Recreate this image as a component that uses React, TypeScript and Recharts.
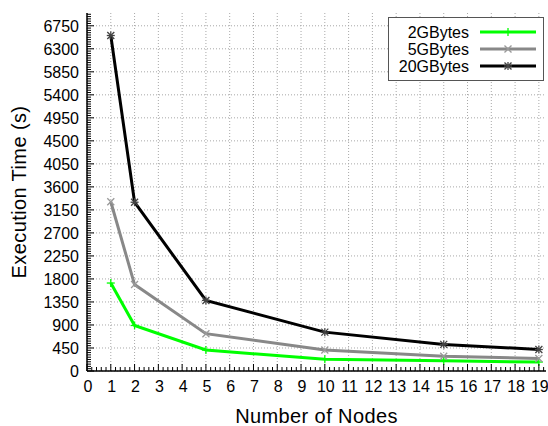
import React from 'react';
import { LineChart, Line, XAxis, YAxis, CartesianGrid, Legend } from 'recharts';

const nodes = [1, 2, 5, 10, 15, 19];
const time2GB = [1720, 890, 410, 230, 200, 175];
const time5GB = [3310, 1690, 730, 410, 290, 245];
const time20GB = [6560, 3300, 1380, 760, 520, 420];
const seriesNames = ['2GBytes', '5GBytes', '20GBytes'];
const seriesColors = ['#00ff00', '#888888', '#000000'];
const xTickLabels = [0, 1, 2, 3, 4, 5, 6, 7, 8, 9, 10, 11, 12, 13, 14, 15, 16, 17, 18, 19];
const yTickLabels = [0, 450, 900, 1350, 1800, 2250, 2700, 3150, 3600, 4050, 4500, 4950, 5400, 5850, 6300, 6750];
const xDomain = [0, 19.3];
const yDomain = [0, 7000];

const data = nodes.map((n, i) => ({
  n,
  s0: time2GB[i],
  s1: time5GB[i],
  s2: time20GB[i],
}));

// minor tick positions (styling only)
const xMinor: number[] = [];
for (let i = 0; i <= 96; i++) xMinor.push(Math.round(i * 2) / 10);
const yMinor: number[] = [];
for (let i = 0; i <= 155; i++) yMinor.push(i * 45);

const isMajorX = (v: number) => Math.abs(v - Math.round(v)) < 1e-6;
const isMajorY = (v: number) => Math.abs(v / 450 - Math.round(v / 450)) < 1e-6;

const FONT = '"Liberation Sans", Arial, Helvetica, sans-serif';

const BottomTick = (props: any) => {
  const { x, y, payload } = props;
  const major = isMajorX(payload.value);
  return (
    <g>
      <line x1={x} x2={x} y1={y} y2={y - (major ? 7 : 4)} stroke="#000" strokeWidth={1} />
      {major && (
        <text x={x + 1} y={y + 21} textAnchor="middle" fontSize={16} fontFamily={FONT} fill="#000">
          {Math.round(payload.value)}
        </text>
      )}
    </g>
  );
};

const TopTick = (props: any) => {
  const { x, y, payload } = props;
  const major = isMajorX(payload.value);
  return <line x1={x} x2={x} y1={y} y2={y + (major ? 7 : 4)} stroke="#000" strokeWidth={1} />;
};

const LeftTick = (props: any) => {
  const { x, y, payload } = props;
  const major = isMajorY(payload.value);
  return (
    <g>
      <line x1={x} x2={x + (major ? 7 : 4)} y1={y} y2={y} stroke="#000" strokeWidth={1} />
      {major && (
        <text x={x - 8} y={y + 6} textAnchor="end" fontSize={16} fontFamily={FONT} fill="#000">
          {Math.round(payload.value)}
        </text>
      )}
    </g>
  );
};

const RightTick = (props: any) => {
  const { x, y, payload } = props;
  const major = isMajorY(payload.value);
  return <line x1={x} x2={x - (major ? 7 : 4)} y1={y} y2={y} stroke="#000" strokeWidth={1} />;
};

const Marker = ({ kind, cx, cy, color }: { kind: number; cx: number; cy: number; color: string }) => {
  const s = 3.5;
  const plus = (
    <>
      <line x1={cx - s - 0.5} x2={cx + s + 0.5} y1={cy} y2={cy} stroke={color} strokeWidth={1.3} />
      <line x1={cx} x2={cx} y1={cy - s - 0.5} y2={cy + s + 0.5} stroke={color} strokeWidth={1.3} />
    </>
  );
  const cross = (
    <>
      <line x1={cx - s} x2={cx + s} y1={cy - s} y2={cy + s} stroke={color} strokeWidth={1.3} />
      <line x1={cx - s} x2={cx + s} y1={cy + s} y2={cy - s} stroke={color} strokeWidth={1.3} />
    </>
  );
  return (
    <g>
      {(kind === 0 || kind === 2) && plus}
      {(kind === 1 || kind === 2) && cross}
    </g>
  );
};

const markerColors = ['#00ff00', '#9a9a9a', '#444444'];

const makeDot = (kind: number) => (props: any) => {
  const { cx, cy, index } = props;
  if (cx == null || cy == null) return <g key={index} />;
  return (
    <g key={index}>
      <Marker kind={kind} cx={cx} cy={cy} color={markerColors[kind]} />
    </g>
  );
};

const LegendBox = () => (
  <svg width={156} height={64} style={{ display: 'block' }}>
    <rect x={0.5} y={0.5} width={155} height={63} fill="#fff" stroke="#555" strokeWidth={1} />
    {seriesNames.map((name, i) => {
      const cy = 15 + i * 17;
      return (
        <g key={name}>
          <text x={81} y={cy + 6} textAnchor="end" fontSize={16} fontFamily={FONT} fill="#000">
            {name}
          </text>
          <line x1={92} x2={148} y1={cy} y2={cy} stroke={seriesColors[i]} strokeWidth={3} />
          <Marker kind={i} cx={120} cy={cy} color={markerColors[i]} />
        </g>
      );
    })}
  </svg>
);

export default function App() {
  return (
    <div style={{ position: 'absolute', left: 0, top: 0, background: '#fff' }}>
      <LineChart
        width={548}
        height={426}
        data={data}
        margin={{ top: 13, right: 2, bottom: 5, left: 27 }}
      >
        <CartesianGrid
          stroke="#a8a8a8"
          strokeWidth={1}
          strokeDasharray="1 2"
          horizontalValues={yTickLabels}
          verticalValues={xTickLabels}
        />
        <XAxis
          dataKey="n"
          type="number"
          domain={xDomain}
          allowDataOverflow
          ticks={xMinor}
          interval={0}
          tickSize={0}
          tickMargin={0}
          height={50}
          axisLine={{ stroke: '#000', strokeWidth: 1.5 }}
          tick={<BottomTick />}
          label={{
            value: 'Number of Nodes',
            position: 'insideBottom',
            offset: -2,
            fontSize: 20,
            fontFamily: FONT,
            fill: '#000',
            style: { letterSpacing: '0.4px' },
          }}
        />
        <XAxis
          xAxisId="top"
          orientation="top"
          type="number"
          domain={xDomain}
          allowDataOverflow
          ticks={xMinor}
          interval={0}
          tickSize={0}
          tickMargin={0}
          height={0}
          axisLine={{ stroke: '#000', strokeWidth: 1.5 }}
          tick={<TopTick />}
        />
        <YAxis
          type="number"
          domain={yDomain}
          allowDataOverflow
          ticks={yMinor}
          interval={0}
          tickSize={0}
          tickMargin={0}
          width={60}
          axisLine={{ stroke: '#000', strokeWidth: 1.5 }}
          tick={<LeftTick />}
          label={{
            value: 'Execution Time (s)',
            angle: -90,
            position: 'insideLeft',
            offset: -8,
            fontSize: 20,
            fontFamily: FONT,
            fill: '#000',
            style: { textAnchor: 'middle', letterSpacing: '0.4px' },
          }}
        />
        <YAxis
          yAxisId="right"
          orientation="right"
          type="number"
          domain={yDomain}
          allowDataOverflow
          ticks={yMinor}
          interval={0}
          tickSize={0}
          tickMargin={0}
          width={0}
          axisLine={{ stroke: '#000', strokeWidth: 1.5 }}
          tick={<RightTick />}
        />
        <Legend
          layout="horizontal"
          verticalAlign="middle"
          align="center"
          content={() => <LegendBox />}
          wrapperStyle={{ position: 'absolute', left: 388, top: 17, width: 156, height: 64 }}
        />
        <Line
          name={seriesNames[0]}
          dataKey="s0"
          stroke={seriesColors[0]}
          strokeWidth={3}
          dot={makeDot(0)}
          activeDot={false}
          isAnimationActive={false}
        />
        <Line
          name={seriesNames[1]}
          dataKey="s1"
          stroke={seriesColors[1]}
          strokeWidth={3}
          dot={makeDot(1)}
          activeDot={false}
          isAnimationActive={false}
        />
        <Line
          name={seriesNames[2]}
          dataKey="s2"
          stroke={seriesColors[2]}
          strokeWidth={3}
          dot={makeDot(2)}
          activeDot={false}
          isAnimationActive={false}
        />
      </LineChart>
    </div>
  );
}
